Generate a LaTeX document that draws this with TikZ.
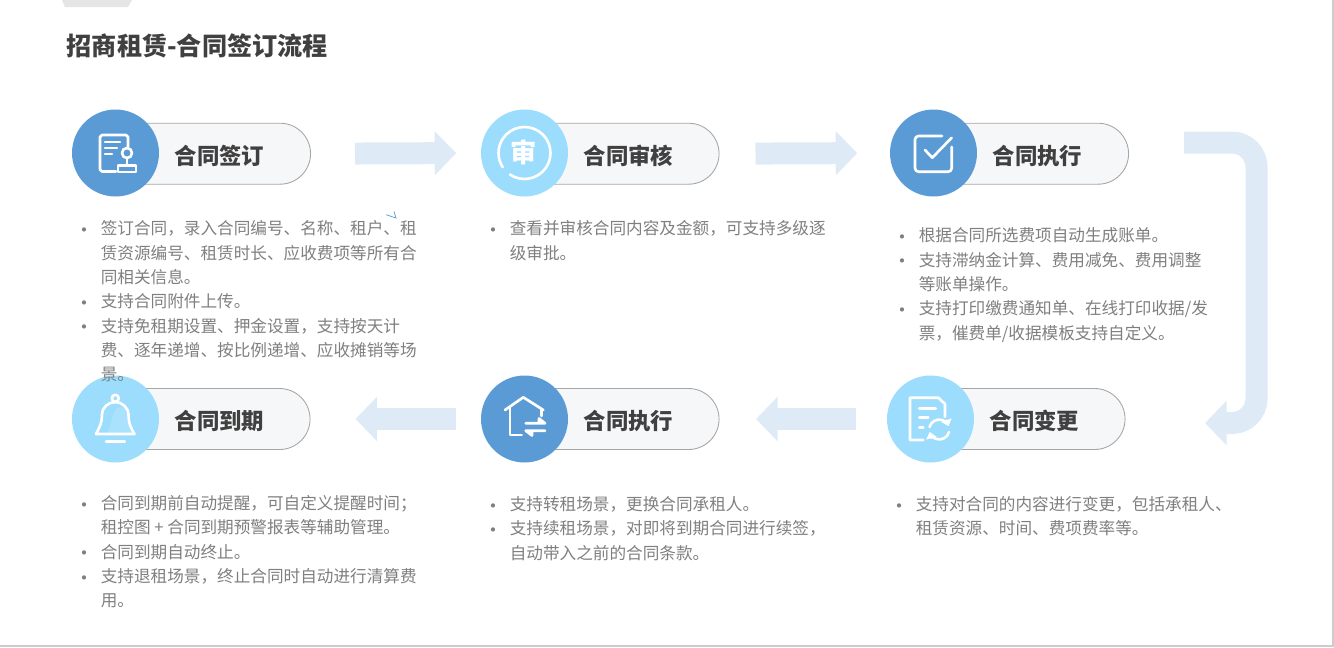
\documentclass[tikz,border=0pt]{standalone}
\usepackage{fontspec}
\setmainfont{Noto Sans CJK SC}
\usetikzlibrary{arrows.meta, positioning}
\definecolor{deepblue}{HTML}{5B9BD5}
\definecolor{skyblue}{HTML}{9CDCFD}
\definecolor{flowblue}{HTML}{DEEAF6}
\definecolor{pillfill}{HTML}{F6F7F9}
\definecolor{pillline}{HTML}{A6A6A6}
\definecolor{headtext}{HTML}{404040}
\definecolor{bodytext}{HTML}{7F7F7F}
\newcommand{\bl}{\makebox[0pt][r]{\raisebox{-1.5pt}{\scalebox{1.2}{\textbullet}}\hspace{3.4pt}}}

\begin{document}
\begin{tikzpicture}[
    x=0.02cm, y=-0.02cm,
    pill/.style={rectangle, draw=pillline, fill=pillfill, line width=0.5pt,
                 rounded corners=0.61cm, minimum height=1.22cm, anchor=east},
    dcirc/.style={circle, fill=deepblue, minimum size=1.74cm, inner sep=0pt},
    lcirc/.style={circle, fill=skyblue, minimum size=1.74cm, inner sep=0pt},
    head/.style={font=\fontsize{12.75pt}{15pt}\selectfont\bfseries, text=headtext, inner sep=0pt},
    body/.style={font=\fontsize{9.46pt}{13.85pt}\selectfont, text=bodytext, align=left,
                 anchor=north west, inner sep=0pt},
    flow/.style={draw=flowblue, line width=0.44cm,
                 -{Triangle[length=0.43cm, width=0.86cm]}},
    icon/.style={draw=white, line width=1.5pt, line cap=round, line join=round}
]
\useasboundingbox (0,0) rectangle (1334,647);
\fill[gray!20] (62,0) -- (132,0) -- (128,7) -- (65,7) -- cycle;
\draw[gray!40, line width=0.8pt] (1332.8,0) -- (1332.8,646) -- (0,646);
\node[font=\fontsize{14.3pt}{17pt}\selectfont\bfseries, text=headtext, anchor=west, inner sep=0pt]
    (title) at (66.5,46) {招商租赁-合同签订流程};

\node[pill, minimum width=3.92cm] (p1) at (311,153.7) {};
\node[pill, minimum width=3.90cm] (p2) at (719.5,153.7) {};
\node[pill, minimum width=3.92cm] (p3) at (1129,153.7) {};
\node[pill, minimum width=3.92cm] (p4) at (310.5,419) {};
\node[pill, minimum width=3.90cm] (p5) at (719.5,419) {};
\node[pill, minimum width=3.90cm] (p6) at (1125.5,419) {};
\node[dcirc] (c1) at (115.5,153) {};
\node[lcirc] (c2) at (524.5,153) {};
\node[dcirc] (c3) at (933.5,153) {};
\node[lcirc] (c4) at (115.5,419) {};
\node[dcirc] (c5) at (524.5,419) {};
\node[lcirc] (c6) at (930.5,419) {};
\node[head] (t1) at (219.5,155.7) {合同签订};
\node[head] (t2) at (628.5,155.7) {合同审核};
\node[head] (t3) at (1037.5,155.7) {合同执行};
\node[head] (t4) at (219.5,421) {合同到期};
\node[head] (t5) at (628.5,421) {合同执行};
\node[head] (t6) at (1034.5,421) {合同变更};

\draw[flow, shorten <=0.88cm, shorten >=0.49cm] (p1.east) -- (c2.west);
\draw[flow, shorten <=0.72cm, shorten >=0.65cm] (p2.east) -- (c3.west);
\draw[flow, shorten <=0.61cm, shorten >=0.73cm] (c6.west) -- (p5.east);
\draw[flow, shorten <=0.49cm, shorten >=0.90cm] (c5.west) -- (p4.east);
\coordinate (b1) at (1184,142.5);
\coordinate (b2) at (1205,423);
\draw[flow, rounded corners=0.49cm] (b1) -- (1256.5,142.5) -- (1256.5,423) -- (b2);

\draw[icon] (128,147) -- (128,137) -- (126,135) -- (102,135) -- (100,137) -- (100,169.5) -- (102,171.5) -- (116,171.5);
\draw[icon] (105,142) -- (120,142) (105,148) -- (117,148) (105,154) -- (112,154);
\draw[icon] (127,153) circle[radius=0.1cm];
\draw[icon] (127,158) -- (127,165);
\draw[icon] (118,165.7) rectangle (136,172);

\draw[icon] (c2.center) ++(236:0.52cm) arc[start angle=236, end angle=573, radius=0.52cm];
\node[font=\fontsize{15pt}{16pt}\selectfont\bfseries, text=white, inner sep=0pt] (shen) at (524,152.5) {审};

\draw[icon, rounded corners=2pt] (942,136) -- (915,136) -- (915,171.7) -- (951.7,171.7) -- (951.7,147);
\draw[icon] (925,150) -- (932.3,157.7) -- (951.7,137.7);

\draw[icon] (115.3,398.3) circle[radius=0.07cm];
\fill[white, opacity=0.15] (107,434) .. controls (112,424) and (112,410) .. (118,408) .. controls (126,405) and (128,410) .. (128.5,416) .. controls (129,424) and (131,428) .. (134.5,434) -- cycle;
\draw[icon] (96,434) .. controls (99,428) and (102,424) .. (102,414) .. controls (102,408) and (108,402) .. (115.3,402) .. controls (122,402) and (128.5,408) .. (128.5,414) .. controls (128.5,424) and (131,428) .. (134.5,434) -- cycle;
\draw[icon] (106,441.3) -- (124.7,441.3);

\draw[icon] (505,410) -- (523.3,397.3) -- (543.3,410);
\draw[icon] (510,407) -- (510,435) -- (521.7,435);
\draw[icon] (541.7,409) -- (541.7,416);
\draw[icon] (525.7,423.3) -- (545,423.3) -- (539,418.5) -- (539,423.3);
\draw[icon] (545,430.7) -- (525.7,430.7) -- (532,435.5) -- (532,430.7);

\draw[icon] (923.3,440) -- (910,440) -- (910,397.7) -- (938.3,397.7) -- (945,404) -- (945,416.7);
\draw[icon] (919.3,408.3) -- (935.7,408.3) (919.3,417.3) -- (928.3,417.3) (919.3,427.3) -- (923.3,427.3);
\draw[icon, -{Triangle[length=3.6pt, width=6pt]}] (929.5,427) arc[start angle=165, end angle=20, radius=0.2cm];
\draw[icon, -{Triangle[length=3.6pt, width=6pt]}] (949,432) arc[start angle=-15, end angle=-165, radius=0.2cm];

\draw[deepblue, line width=0.4pt] (386,214.7) -- (396,218) -- (394,211.5);

\node[body] (b1text) at (100.5,220.3) {\bl 签订合同，录入合同编号、名称、租户、租\\
    赁资源编号、租赁时长、应收费项等所有合\\
    同相关信息。\\
    \bl 支持合同附件上传。\\
    \bl 支持免租期设置、押金设置，支持按天计\\
    费、逐年递增、按比例递增、应收摊销等场\\
    景。};
\node[body] (b2text) at (509.5,220.3) {\bl 查看并审核合同内容及金额，可支持多级逐\\
    级审批。};
\node[body] (b3text) at (918.5,227.3) {\bl 根据合同所选费项自动生成账单。\\
    \bl 支持滞纳金计算、费用减免、费用调整\\
    等账单操作。\\
    \bl 支持打印缴费通知单、在线打印收据/发\\
    票，催费单/收据模板支持自定义。};
\node[body] (b4text) at (100.5,495) {\bl 合同到期前自动提醒，可自定义提醒时间；\\
    租控图 + 合同到期预警报表等辅助管理。\\
    \bl 合同到期自动终止。\\
    \bl 支持退租场景，终止合同时自动进行清算费\\
    用。};
\node[body] (b5text) at (509.5,496) {\bl 支持转租场景，更换合同承租人。\\
    \bl 支持续租场景，对即将到期合同进行续签，\\
    自动带入之前的合同条款。};
\node[body] (b6text) at (915.5,496) {\bl 支持对合同的内容进行变更，包括承租人、\\
    租赁资源、时间、费项费率等。};
\end{tikzpicture}
\end{document}
